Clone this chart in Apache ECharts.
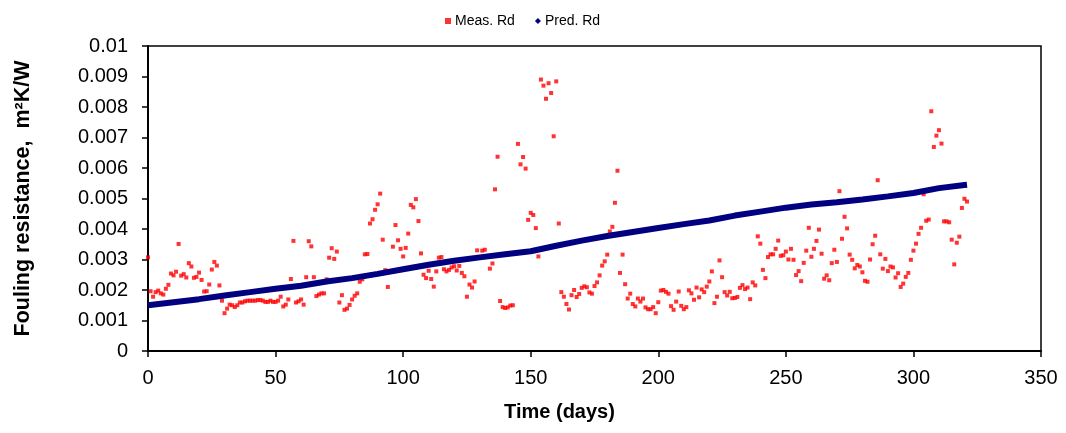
<!DOCTYPE html>
<html>
<head>
<meta charset="utf-8">
<script src="https://cdn.jsdelivr.net/npm/echarts@6/dist/echarts.min.js"></script>
<style>
html,body{margin:0;padding:0;background:#fff;}
#chart{width:1066px;height:433px;}
</style>
</head>
<body>
<div id="chart"></div>
<script>
// Measured fouling resistance, one reading per day (day = index), in units of 0.001 m2K/W
const measRd = [
3.07,1.96,1.78,1.93,1.98,1.89,1.85,2.04,2.17,2.54,
2.48,2.60,3.51,2.47,2.52,2.41,2.88,2.77,2.40,2.43,
2.57,2.33,1.95,1.96,2.18,2.67,2.92,2.80,2.15,1.65,
1.24,1.39,1.52,1.50,1.44,1.50,1.59,1.59,1.63,1.65,
1.65,1.65,1.65,1.67,1.67,1.65,1.61,1.61,1.65,1.61,
1.61,1.65,1.78,1.46,1.52,1.69,2.36,3.61,1.59,1.63,
1.69,1.52,2.42,3.60,3.43,2.42,1.80,1.85,1.89,1.89,
2.35,3.06,3.37,3.02,3.26,1.59,1.83,1.35,1.39,1.51,
1.69,1.81,1.89,2.27,2.35,3.17,3.18,4.18,4.32,4.63,
4.81,5.16,3.65,2.65,2.10,null,3.42,4.13,3.63,3.35,
3.10,3.38,3.85,4.79,4.71,4.98,4.26,3.20,2.50,2.39,
2.63,2.36,2.11,2.61,3.06,3.08,2.68,2.61,2.66,2.74,
2.78,2.64,2.79,2.56,2.45,1.78,2.18,2.08,2.28,3.30,
null,3.29,3.32,null,2.70,2.87,5.30,6.37,1.64,1.44,
1.41,1.43,1.49,1.50,null,6.79,6.12,6.36,5.98,4.30,
4.53,4.46,4.03,3.10,8.90,8.70,8.27,8.78,8.46,7.04,
8.84,4.18,1.93,1.78,1.54,1.36,1.83,2.00,1.77,1.87,
2.07,2.12,2.09,1.92,1.88,2.13,2.25,2.48,2.80,2.94,
3.16,3.92,4.07,4.86,5.91,2.56,3.16,2.19,1.72,1.88,
1.54,1.46,1.72,1.62,1.72,1.43,1.37,1.37,1.44,1.24,
1.60,1.98,2.00,1.94,1.88,1.47,1.35,1.62,1.95,1.48,
1.37,1.44,1.99,1.89,1.68,2.08,1.76,2.02,1.93,2.11,
2.28,2.61,1.57,1.78,2.97,2.42,1.93,1.82,1.94,1.73,
1.74,1.77,2.07,2.16,2.03,2.08,1.70,2.25,2.15,3.76,
3.52,2.66,2.39,3.08,3.17,3.17,3.35,3.62,3.12,3.14,
3.26,3.00,3.35,2.99,2.49,2.62,2.29,2.89,3.29,4.04,
3.09,3.35,3.61,3.98,3.19,2.37,2.48,2.32,2.88,3.32,
2.92,5.24,3.68,4.40,4.02,3.16,2.99,2.71,2.82,2.77,
2.58,2.30,2.27,3.00,3.50,3.78,5.60,3.17,2.70,3.02,
2.62,2.77,2.74,2.41,2.55,2.10,2.21,2.43,2.56,2.99,
3.29,3.52,3.84,4.04,5.14,4.27,4.31,7.86,6.69,7.06,
7.24,6.80,4.25,4.25,4.22,3.65,2.84,3.55,3.75,4.69,
4.99,4.90
];
// Predicted fouling resistance read at these days (units of 0.001 m2K/W)
const predDays = [0,10,20,30,40,50,60,70,80,90,100,110,120,130,140,150,160,170,180,190,200,210,220,230,240,250,260,270,280,290,300,310,320,321];
const predRd   = [1.50,1.60,1.70,1.82,1.93,2.04,2.14,2.28,2.39,2.53,2.68,2.83,2.96,3.07,3.17,3.27,3.45,3.62,3.77,3.90,4.03,4.16,4.28,4.44,4.57,4.70,4.80,4.88,4.97,5.07,5.18,5.34,5.44,5.45];

const seriesNames = ['Meas. Rd','Pred. Rd'];
const xTitle = 'Time (days)';
const yTitle = 'Fouling resistance,  m\u00B2K/W';
const UNIT = 0.001;

const measData = measRd.map((v,i)=> v==null ? null : [i, v*UNIT]).filter(d=>d);
const predData = predDays.map((d,i)=>[d, predRd[i]*UNIT]);

const font = 'Arial, "Liberation Sans", sans-serif';
const chart = echarts.init(document.getElementById('chart'), null, {renderer:'canvas'});
chart.setOption({
  animation:false,
  backgroundColor:'#fff',
  legend:{
    top:9, left:440,
    itemWidth:6, itemHeight:6, itemGap:20,
    textStyle:{fontFamily:font, fontSize:14, color:'#000', padding:[0,0,0,-1]},
    data:[{name:seriesNames[0], icon:'rect'},{name:seriesNames[1], icon:'diamond'}]
  },
  grid:{left:148, right:25, top:46, bottom:82, show:true, borderColor:'#000', borderWidth:1.5, backgroundColor:'transparent'},
  xAxis:{
    type:'value', min:0, max:350, interval:50,
    name:xTitle, nameLocation:'middle', nameGap:51,
    nameTextStyle:{fontFamily:font, fontSize:20, fontWeight:'bold', color:'#000', padding:[0,70,0,0]},
    axisLine:{lineStyle:{color:'#000', width:2}},
    axisTick:{inside:false, length:6, lineStyle:{color:'#000', width:1.5}},
    axisLabel:{fontFamily:font, fontSize:20, color:'#000', margin:17},
    splitLine:{show:false}
  },
  yAxis:{
    type:'value', min:0, max:0.01, interval:0.001,
    name:yTitle, nameLocation:'middle', nameGap:114, nameRotate:90,
    nameTextStyle:{fontFamily:font, fontSize:21.5, fontWeight:'bold', color:'#000'},
    axisLine:{show:true, lineStyle:{color:'#000', width:2}},
    axisTick:{show:true, inside:false, length:6, lineStyle:{color:'#000', width:1.5}},
    axisLabel:{fontFamily:font, fontSize:20, color:'#000', margin:20,
      formatter:v=>String(parseFloat(v.toFixed(4)))},
    splitLine:{show:false}
  },
  series:[
    {name:seriesNames[0], type:'scatter', data:measData, symbol:'rect', symbolSize:[4,4],
     itemStyle:{color:'#ff0000'}, z:2},
    {name:seriesNames[1], type:'line', data:predData, showSymbol:false, symbol:'diamond',
     lineStyle:{color:'#000080', width:6}, itemStyle:{color:'#000080'}, z:3}
  ]
});
</script>
</body>
</html>
